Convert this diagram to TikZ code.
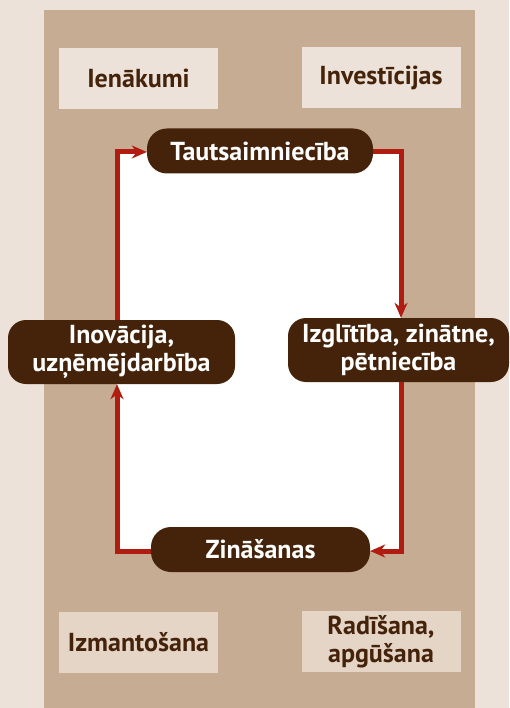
\documentclass[tikz,border=0pt]{standalone}
\usepackage{fontspec}
\setmainfont{PT Sans}
\usetikzlibrary{arrows.meta}
\definecolor{pagebg}{HTML}{ECE2D9}
\definecolor{panel}{HTML}{C6AC93}
\definecolor{boxtop}{HTML}{ECE2D9}
\definecolor{boxbot}{HTML}{E4D5C6}
\definecolor{darkbrown}{HTML}{45230A}
\definecolor{loopred}{HTML}{B01C10}

\begin{document}
\begin{tikzpicture}[x=1pt, y=-1pt,
  stage/.style={rounded corners=20pt, fill=darkbrown, text=white, font=\bfseries\fontsize{26}{28}\selectfont, align=center, inner sep=0pt},
  tag/.style={text=darkbrown, font=\bfseries\fontsize{26}{28}\selectfont, align=center, inner sep=0pt, minimum width=159pt, minimum height=61pt},
  loopline/.style={draw=loopred, line width=5pt, -{Stealth[length=15pt, width=13pt]}}]
%background
  \useasboundingbox (0,0) rectangle (509,708);
  \fill[pagebg] (0,0) rectangle (509,708);
  \fill[panel] (44,10) rectangle (475,708);

%corners of the cycle
  \coordinate (tl) at (117,152);
  \coordinate (tr) at (401,152);
  \coordinate (br) at (401,551);
  \coordinate (bl) at (117,551);
  \fill[white] (tl) rectangle (br);

%labels in the corners
  \node[tag, fill=boxtop] (income) at (138.5,78.5) {Ienākumi};
  \node[tag, fill=boxtop] (invest) at (381,77.5) {Investīcijas};
  \node[tag, fill=boxbot] (use) at (138.5,642.5) {Izmantošana};
  \node[tag, fill=boxbot] (create) at (381,641.5) {Radīšana,\\apgūšana};

%stages
  \node[stage, minimum width=226pt, minimum height=45pt] (taut) at (260,151) {Tautsaimniecība};
  \node[stage, minimum width=221pt, minimum height=64pt, rounded corners=18pt] (izg) at (398.5,350) {Izglītība, zinātne,\\pētniecība};
  \node[stage, minimum width=219pt, minimum height=45pt] (zin) at (260.5,549.5) {Zināšanas};
  \node[stage, minimum width=227pt, minimum height=64pt, rounded corners=18pt] (ino) at (121.5,352) {Inovācija,\\uzņēmējdarbība};

  \draw[loopline] (taut.east |- tr) -- (tr) -- (tr |- izg.north);
  \draw[loopline] (izg.south -| br) -- (br) -- (zin.east |- br);
  \draw[loopline] (zin.west |- bl) -- (bl) -- (bl |- ino.south);
  \draw[loopline] (ino.north -| tl) -- (tl) -- (taut.west |- tl);
\end{tikzpicture}
\end{document}
